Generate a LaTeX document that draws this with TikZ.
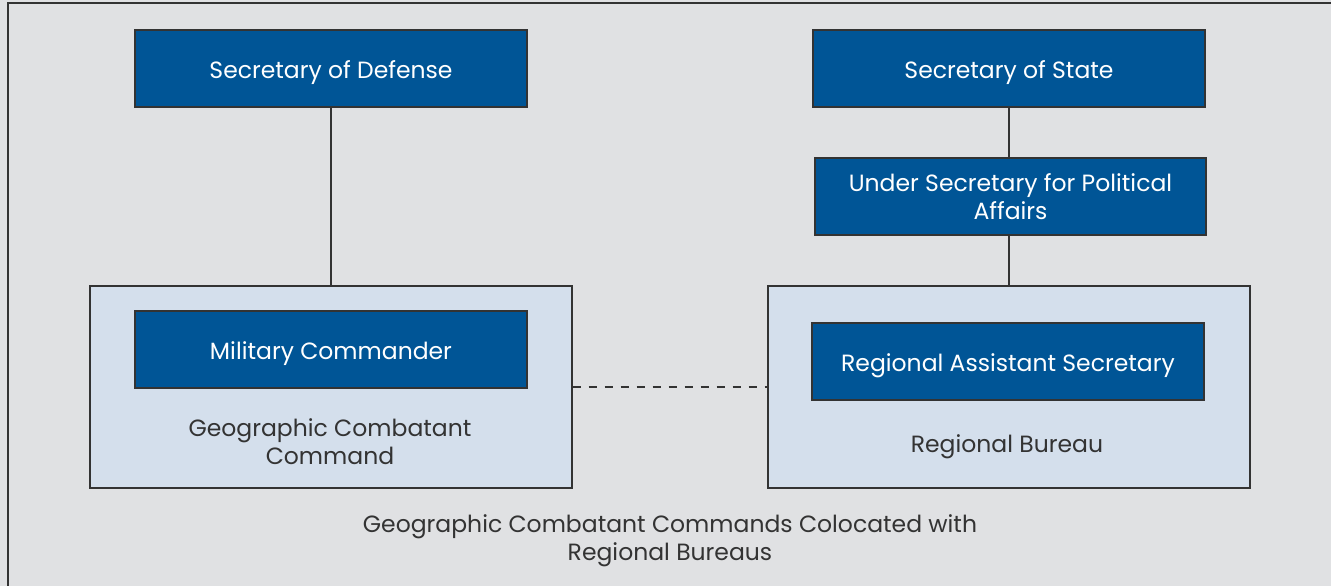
\documentclass[tikz,border=0pt]{standalone}
\usepackage{fontspec}
\setmainfont{Poppins}
\definecolor{bg}{HTML}{E0E1E3}
\definecolor{navy}{HTML}{005596}
\definecolor{pale}{HTML}{D4DFEC}
\definecolor{ink}{HTML}{333333}
\begin{document}
\begin{tikzpicture}[x=1pt,y=-1pt,
  bluebox/.style={draw=ink,line width=1.2pt,fill=navy,text=white,minimum width=392pt,minimum height=77pt,inner sep=0pt,align=center,font=\fontsize{23.5}{28}\selectfont},
  oneline/.style={text height=20pt,text depth=0pt},
  palebox/.style={draw=ink,line width=1.2pt,fill=pale,minimum width=482pt,minimum height=202pt,inner sep=0pt},
  lbl/.style={text=ink,align=center,font=\fontsize{23.5}{28}\selectfont},
  conn/.style={draw=ink,line width=1.2pt}]
\fill[bg] (0,0) rectangle (1331,586);
\useasboundingbox (0,0) rectangle (1331,586);
\draw[ink,line width=1.5pt] (8,590) -- (8,3) -- (1335,3);
\node[bluebox,oneline] (sd) at (331,68.5) {Secretary of Defense};
\node[bluebox,oneline] (ss) at (1009,68.5) {Secretary of State};
\node[bluebox,minimum width=391pt] (us) at (1010.5,196.5) {Under Secretary for Political\\Affairs};
\node[palebox] (gcc) at (331,387) {};
\node[palebox] (rb) at (1009,387) {};
\node[bluebox,oneline] (mc) at (331,349.5) {Military Commander};
\node[bluebox,oneline] (ras) at (1008,361.5) {Regional Assistant Secretary};
\node[lbl] (gcct) at (330,441.5) {Geographic Combatant\\Command};
\node[lbl] (rbt) at (1007,447) {Regional Bureau};
\node[lbl] (cap) at (670,541) {Geographic Combatant Commands Colocated with\\Regional Bureaus};
\draw[conn] (sd.south) -- (gcc.north);
\draw[conn] (ss.south) -- (ss.south |- us.north);
\draw[conn] (us.south -| rb.north) -- (rb.north);
\draw[conn,dash pattern=on 8pt off 8pt] (gcc.east |- 0,387) -- (rb.west |- 0,387);
\end{tikzpicture}
\end{document}
